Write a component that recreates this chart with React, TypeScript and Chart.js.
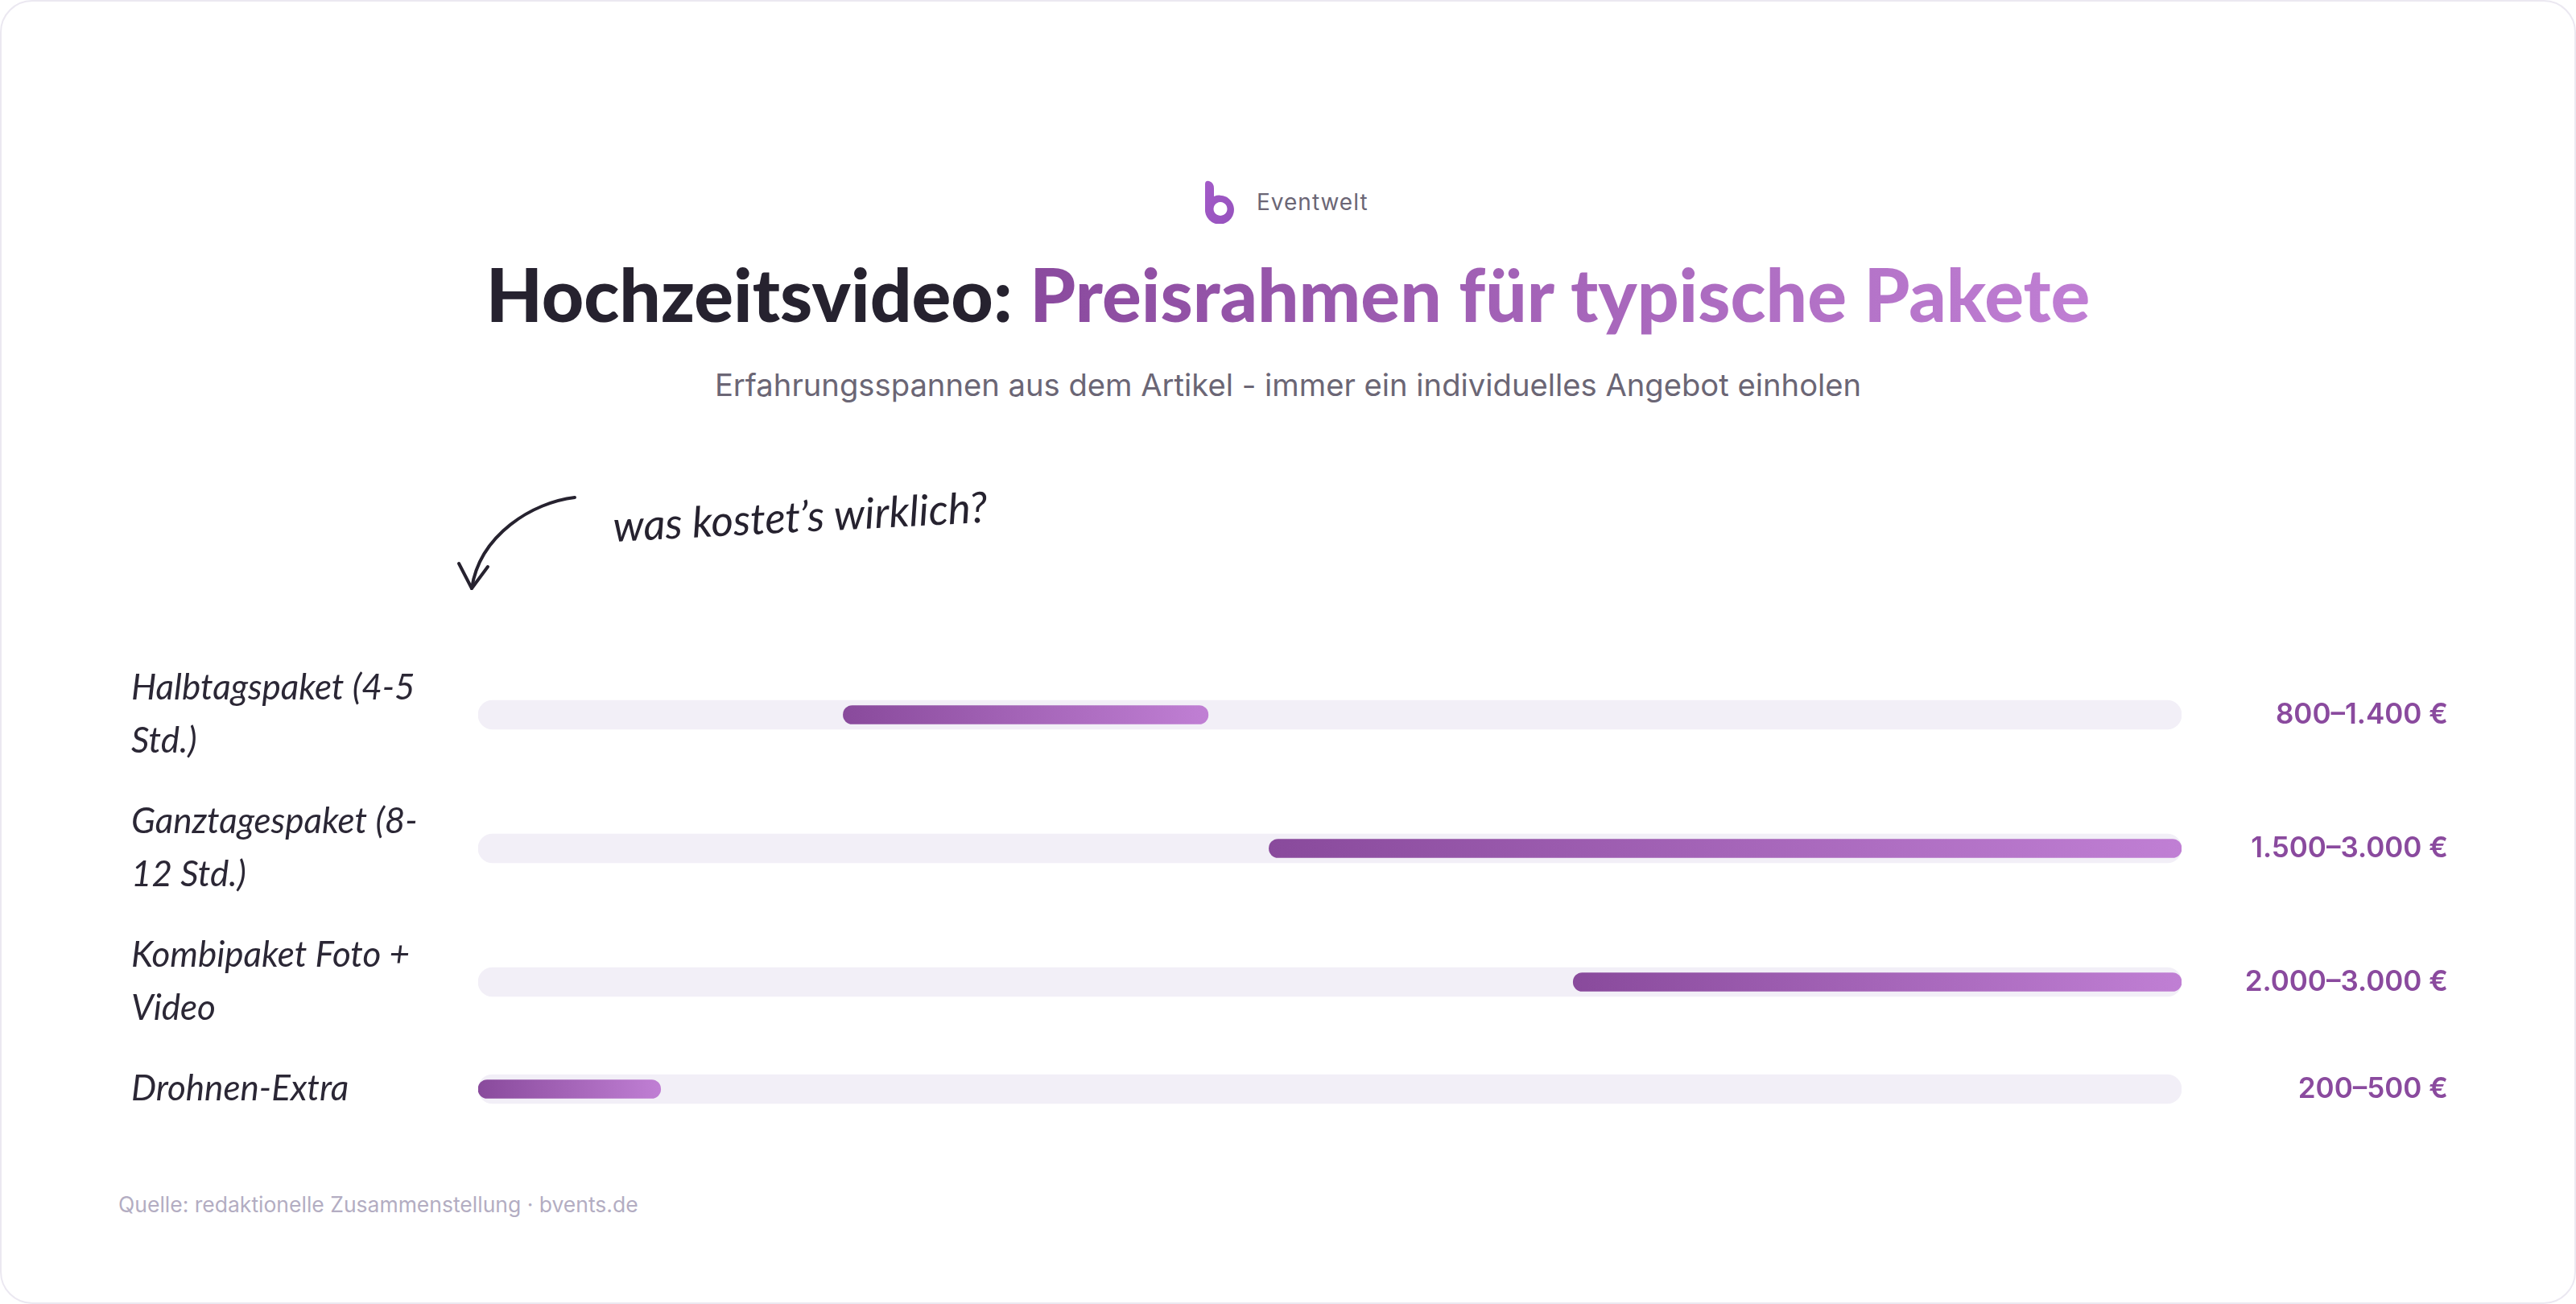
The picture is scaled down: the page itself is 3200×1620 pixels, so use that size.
import React, { useEffect, useRef } from "react";
import { Chart, registerables } from "chart.js";

Chart.register(...registerables);

// ---- data ----
const categoryLines: string[][] = [
  ["Halbtagspaket (4-5", "Std.)"],
  ["Ganztagespaket (8-", "12 Std.)"],
  ["Kombipaket Foto +", "Video"],
  ["Drohnen-Extra"],
];
const priceMin = [800, 1500, 2000, 200];
const priceMax = [1400, 3000, 3000, 500];
const rangeLabels = ["800–1.400 €", "1.500–3.000 €", "2.000–3.000 €", "200–500 €"];
const axisMin = 200;
const axisMax = 3000;

// ---- layout rule for rows (like a flex list: height grows with label lines) ----
const LINE_H = 66;
const ROW_GAP = 34;
const rowHeights = categoryLines.map((l) => l.length * LINE_H + ROW_GAP);
const rowCenters: number[] = [];
{
  let acc = 0;
  rowHeights.forEach((h) => {
    rowCenters.push(acc + h / 2);
    acc += h;
  });
}
const rowsTotal = rowHeights.reduce((a, b) => a + b, 0);

const DARK = "#26222f";
const PURPLE = "#8a4a9e";
const PURPLE_LIGHT = "#c07fd4";

function RangeChart() {
  const ref = useRef<HTMLCanvasElement | null>(null);
  useEffect(() => {
    if (!ref.current) return;
    const setTicks = (scale: any) => {
      scale.ticks = rowCenters.map((v) => ({ value: v }));
    };
    const fitWidth = (w: number) => (s: any) => {
      s.width = w;
      s.paddingTop = 0;
      s.paddingBottom = 0;
    };
    const chart = new Chart(ref.current, {
      type: "bar",
      data: {
        datasets: [
          {
            label: "Preisspanne",
            data: rowCenters.map((y, i) => ({ x: [priceMin[i], priceMax[i]], y })) as any,
            grouped: false,
            order: 1,
            barThickness: 23,
            borderRadius: 12,
            borderSkipped: false,
            backgroundColor: (ctx: any) => {
              const c = ctx.chart;
              const xs = c.scales && c.scales.x;
              if (!xs || ctx.type !== "data") return PURPLE;
              const i = ctx.dataIndex;
              const x0 = xs.getPixelForValue(priceMin[i]);
              const x1 = xs.getPixelForValue(priceMax[i]);
              if (!isFinite(x0) || !isFinite(x1) || x0 === x1) return PURPLE;
              const g = c.ctx.createLinearGradient(x0, 0, x1, 0);
              g.addColorStop(0, "#894a9c");
              g.addColorStop(1, PURPLE_LIGHT);
              return g;
            },
          } as any,
          {
            label: "Skala",
            data: rowCenters.map((y) => ({ x: [axisMin, axisMax], y })) as any,
            grouped: false,
            order: 2,
            barThickness: 36,
            borderRadius: 18,
            borderSkipped: false,
            backgroundColor: "#f2eff7",
          } as any,
        ],
      },
      options: {
        indexAxis: "y",
        animation: false,
        responsive: false,
        maintainAspectRatio: false,
        layout: { padding: { left: 163, right: 159, top: 45, bottom: 57 } },
        plugins: { legend: { display: false }, tooltip: { enabled: false } },
        scales: {
          x: { type: "linear", min: axisMin, max: axisMax, display: false, offset: false },
          y: {
            type: "linear",
            position: "left",
            min: 0,
            max: rowsTotal,
            reverse: true,
            offset: false,
            grid: { display: false, offset: false },
            border: { display: false },
            afterBuildTicks: setTicks,
            afterFit: fitWidth(431),
            ticks: {
              autoSkip: false,
              crossAlign: "far",
              padding: 0,
              color: "#2b2735",
              font: { family: "Lato", style: "italic", size: 44, lineHeight: 1.5 },
              callback: (_v: any, i: number) => categoryLines[i],
            },
          },
          y2: {
            type: "linear",
            position: "right",
            min: 0,
            max: rowsTotal,
            reverse: true,
            offset: false,
            grid: { display: false, offset: false },
            border: { display: false },
            afterBuildTicks: setTicks,
            afterFit: fitWidth(331),
            ticks: {
              autoSkip: false,
              crossAlign: "far",
              padding: 0,
              color: PURPLE,
              font: { family: "Inter", weight: "600", size: 35 },
              callback: (_v: any, i: number) => rangeLabels[i],
            },
          },
        },
      } as any,
    });
    return () => chart.destroy();
  }, []);
  return (
    <canvas
      ref={ref}
      width={3200}
      height={700}
      style={{ position: "absolute", left: 0, top: 760, width: 3200, height: 700 }}
    />
  );
}

export default function App() {
  return (
    <div
      style={{
        position: "absolute",
        left: 0,
        top: 0,
        width: 3200,
        height: 1620,
        background: "#ffffff",
        overflow: "hidden",
      }}
    >
      <div
        style={{
          position: "absolute",
          left: 0,
          top: 0,
          width: 3200,
          height: 1620,
          boxSizing: "border-box",
          border: "2px solid #ebe8f1",
          borderRadius: 40,
        }}
      />
      {/* brand */}
      <svg
        width={38}
        height={54}
        viewBox="0 0 38 54"
        style={{ position: "absolute", left: 1497, top: 224 }}
      >
        <defs>
          <linearGradient id="lg" x1="0" y1="0" x2="1" y2="1">
            <stop offset="0" stopColor="#a35bc8" />
            <stop offset="1" stopColor="#9652bd" />
          </linearGradient>
        </defs>
        <path
          d="M0 5 Q0 0 5 1 Q11 3 11 10 L11 20 A18 18 0 1 1 0 35 Z M19 27 A8.5 8.5 0 1 0 19.01 27 Z"
          fill="url(#lg)"
          fillRule="evenodd"
        />
      </svg>
      <div
        style={{
          position: "absolute",
          left: 1561,
          top: 234,
          fontFamily: "Inter",
          fontSize: 28,
          lineHeight: "34px",
          letterSpacing: 1,
          color: "#6b6675",
        }}
      >
        Eventwelt
      </div>
      {/* title */}
      <div
        style={{
          position: "absolute",
          left: 0,
          width: 3200,
          top: 319,
          textAlign: "center",
          fontFamily: "Lato",
          fontWeight: 900,
          fontSize: 91,
          lineHeight: "91px",
          color: DARK,
          whiteSpace: "nowrap",
        }}
      >
        Hochzeitsvideo:{" "}
        <span
          style={{
            background: `linear-gradient(90deg, ${PURPLE}, ${PURPLE_LIGHT})`,
            WebkitBackgroundClip: "text",
            backgroundClip: "text",
            color: "transparent",
          }}
        >
          Preisrahmen für typische Pakete
        </span>
      </div>
      <div
        style={{
          position: "absolute",
          left: 0,
          width: 3200,
          top: 456,
          textAlign: "center",
          fontFamily: "Inter",
          fontSize: 38.2,
          lineHeight: "44px",
          color: "#6b6675",
          whiteSpace: "nowrap",
        }}
      >
        Erfahrungsspannen aus dem Artikel - immer ein individuelles Angebot einholen
      </div>
      {/* annotation */}
      <svg
        width={200}
        height={200}
        viewBox="0 0 200 200"
        style={{ position: "absolute", left: 540, top: 580 }}
      >
        <path
          d="M174 38 C122 44 56 84 46 151"
          fill="none"
          stroke={DARK}
          strokeWidth={4}
          strokeLinecap="round"
        />
        <path
          d="M30 120 L46 151 L66 124"
          fill="none"
          stroke={DARK}
          strokeWidth={4}
          strokeLinecap="round"
          strokeLinejoin="round"
        />
      </svg>
      <div
        style={{
          position: "absolute",
          left: 763,
          top: 622,
          fontFamily: "Lato",
          fontStyle: "italic",
          fontSize: 53,
          lineHeight: "62px",
          color: DARK,
          whiteSpace: "nowrap",
          transform: "rotate(-3deg)",
          transformOrigin: "0% 100%",
        }}
      >
        was kostet’s wirklich?
      </div>
      <RangeChart />
      <div
        style={{
          position: "absolute",
          left: 147,
          top: 1481,
          fontFamily: "Inter",
          fontSize: 26.5,
          lineHeight: "30px",
          color: "#b3adc2",
          whiteSpace: "nowrap",
        }}
      >
        Quelle: redaktionelle Zusammenstellung · bvents.de
      </div>
    </div>
  );
}
